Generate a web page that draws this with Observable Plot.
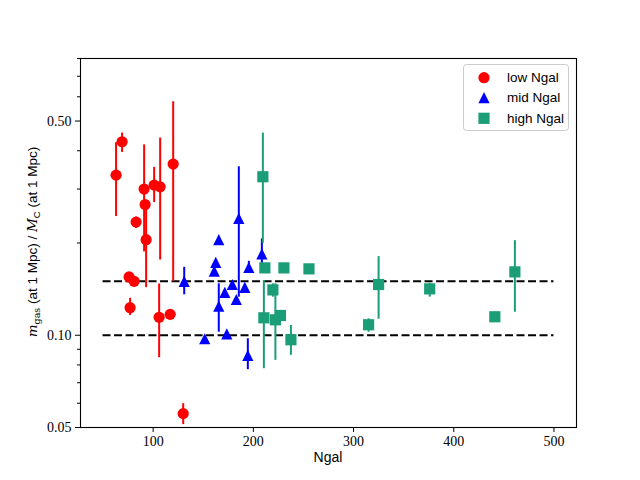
<!DOCTYPE html>
<html>
<head>
<meta charset="utf-8">
<script src="https://cdn.jsdelivr.net/npm/d3@7"></script>
<script src="https://cdn.jsdelivr.net/npm/@observablehq/plot@0.6"></script>
<style>
  html, body { margin: 0; padding: 0; background: #fff; }
  #chart { width: 640px; height: 480px; }
</style>
</head>
<body>
<div id="chart"></div>
<script>
// ---- data ----
const seriesNames = ["low Ngal", "mid Ngal", "high Ngal"];
const seriesColors = ["#ff0000", "#0000ff", "#1b9e77"];

const lowX  = [63, 69, 120, 91, 92, 93, 101, 107, 83, 76, 81, 77, 106, 117, 130];
const lowY  = [0.333, 0.428, 0.362, 0.300, 0.267, 0.205, 0.309, 0.305, 0.234, 0.155, 0.150, 0.123, 0.1145, 0.117, 0.0555];
const lowLo = [0.244, 0.395, 0.150, 0.187, null, 0.143, 0.271, 0.176, 0.223, null, null, 0.116, 0.0845, null, 0.0511];
const lowHi = [0.425, 0.457, 0.578, 0.418, null, 0.265, 0.353, 0.440, 0.243, null, null, 0.132, 0.147, null, 0.0598];

const midX  = [131, 151.5, 165.5, 162.5, 161, 165.5, 173.5, 171.5, 179, 183, 185.5, 191.5, 195.5, 194.5, 208.5];
const midY  = [0.150, 0.0974, 0.205, 0.173, 0.162, 0.1244, 0.1011, 0.138, 0.1464, 0.1308, 0.2406, 0.1434, 0.1666, 0.086, 0.1843];
const midLo = [0.1355, null, null, null, null, 0.1023, null, null, null, null, 0.1331, null, 0.1593, 0.0772, 0.1654];
const midHi = [0.1666, null, null, null, null, 0.1472, null, null, null, null, 0.3546, null, 0.1743, 0.0974, 0.2062];

const highX  = [209.5, 211.5, 230.5, 255.5, 219.5, 210.5, 222, 227, 237.5, 315, 325, 376, 441, 461];
const highY  = [0.329, 0.1659, 0.1659, 0.1647, 0.1406, 0.114, 0.1123, 0.116, 0.0967, 0.1082, 0.1464, 0.1417, 0.1149, 0.161];
const highLo = [0.1995, null, null, null, 0.1331, 0.0778, 0.0828, null, 0.086, 0.1023, 0.1128, 0.1331, null, 0.1189];
const highHi = [0.4567, null, null, null, 0.1472, 0.1508, 0.1472, null, 0.1076, 0.1132, 0.1806, 0.1478, null, 0.2036];

const refLevels = [0.10, 0.15];
const refRange = [50, 500];

const xDomain = [27.5, 522.5];
const yDomain = [0.05, 0.8];
const xTicks = [100, 200, 300, 400, 500];
const yTicks = [0.05, 0.10, 0.50];
const yMinorTicks = [0.06, 0.07, 0.08, 0.09, 0.2, 0.3, 0.4, 0.6, 0.7, 0.8];

// ---- matplotlib-like marker shapes (extent = 2r) ----
const symCircle = { draw(ctx, size) { const r = Math.sqrt(size / Math.PI); ctx.moveTo(r, 0); ctx.arc(0, 0, r, 0, 2 * Math.PI); ctx.closePath(); } };
const symTriangle = { draw(ctx, size) { const r = Math.sqrt(size / Math.PI); ctx.moveTo(0, -r); ctx.lineTo(r, r); ctx.lineTo(-r, r); ctx.closePath(); } };
const symSquare = { draw(ctx, size) { const r = Math.sqrt(size / Math.PI); ctx.rect(-r, -r, 2 * r, 2 * r); ctx.closePath(); } };
const seriesSymbols = [symCircle, symTriangle, symSquare];

function table(xs, ys, los, his) {
  return xs.map((x, i) => ({ x, y: ys[i], lo: los[i], hi: his[i] }));
}
const groups = [
  table(lowX, lowY, lowLo, lowHi),
  table(midX, midY, midLo, midHi),
  table(highX, highY, highLo, highHi)
];
const refData = refLevels.map(v => ({ y: v, x1: refRange[0], x2: refRange[1] }));

const marks = [
  Plot.ruleY(refData, { y: "y", x1: "x1", x2: "x2", stroke: "black", strokeWidth: 2, strokeDasharray: "8,3.5" })
];
groups.forEach((g, i) => {
  marks.push(Plot.ruleX(g.filter(d => d.lo != null), { x: "x", y1: "lo", y2: "hi", stroke: seriesColors[i], strokeWidth: 2 }));
  marks.push(Plot.dot(g, { x: "x", y: "y", symbol: seriesSymbols[i], r: 5.6, fill: seriesColors[i], stroke: "none" }));
});
marks.push(
  Plot.axisX({ ticks: xTicks, tickSize: 5, tickPadding: 4, label: null, tickFormat: d => String(d) }),
  Plot.axisY({ ticks: yTicks, tickSize: 5, tickPadding: 4, label: null, tickFormat: d3.format(".2f") }),
  Plot.axisY({ ticks: yMinorTicks, tickSize: 3, tickFormat: () => "", label: null }),
  Plot.frame({ stroke: "black", strokeWidth: 1.1 })
);

const chart = Plot.plot({
  width: 640,
  height: 480,
  marginLeft: 80,
  marginRight: 64,
  marginTop: 58,
  marginBottom: 53,
  x: { domain: xDomain },
  y: { type: "log", domain: yDomain },
  style: { fontFamily: "'Liberation Serif', serif", fontSize: "14px", background: "white", color: "black", overflow: "visible" },
  marks
});

document.getElementById("chart").appendChild(chart);

// ---- axis titles and legend ----
const svg = d3.select(chart);
svg.append("text")
  .attr("x", 328).attr("y", 462)
  .attr("text-anchor", "middle")
  .attr("font-family", "'Liberation Sans', sans-serif")
  .attr("font-size", 14)
  .attr("fill", "black")
  .text("Ngal");

const yl = svg.append("text")
  .attr("transform", "translate(37,242) rotate(-90)")
  .attr("text-anchor", "middle")
  .attr("font-family", "'Liberation Sans', sans-serif")
  .attr("font-size", 13.5)
  .attr("fill", "black");
yl.append("tspan").attr("font-family", "'DejaVu Serif', serif").attr("font-style", "italic").text("m");
yl.append("tspan").attr("font-family", "'DejaVu Serif', serif").attr("font-size", 9.5).attr("dy", 3).text("gas");
yl.append("tspan").attr("dy", -3).text(" (at 1 Mpc) / ");
yl.append("tspan").attr("font-family", "'DejaVu Serif', serif").attr("font-style", "italic").text("M");
yl.append("tspan").attr("font-size", 9.5).attr("dy", 3).text("C");
yl.append("tspan").attr("dy", -3).text(" (at 1 Mpc)");

const lg = svg.append("g").attr("text-anchor", "start");
lg.append("rect")
  .attr("x", 463.5).attr("y", 64.5).attr("width", 105).attr("height", 66)
  .attr("rx", 3).attr("ry", 3)
  .attr("fill", "white").attr("fill-opacity", 0.8)
  .attr("stroke", "#cccccc").attr("stroke-width", 1);
const rowY = [77.7, 97.7, 118.3];
seriesNames.forEach((name, i) => {
  lg.append("path")
    .attr("transform", `translate(484,${rowY[i]})`)
    .attr("d", d3.symbol().type(seriesSymbols[i]).size(Math.PI * 5.6 * 5.6)())
    .attr("fill", seriesColors[i]);
  lg.append("text")
    .attr("x", 507).attr("y", rowY[i])
    .attr("dy", "0.35em")
    .attr("text-anchor", "start")
    .attr("font-family", "'Liberation Sans', sans-serif")
    .attr("font-size", 13.5)
    .attr("fill", "black")
    .text(name);
});
</script>
</body>
</html>
